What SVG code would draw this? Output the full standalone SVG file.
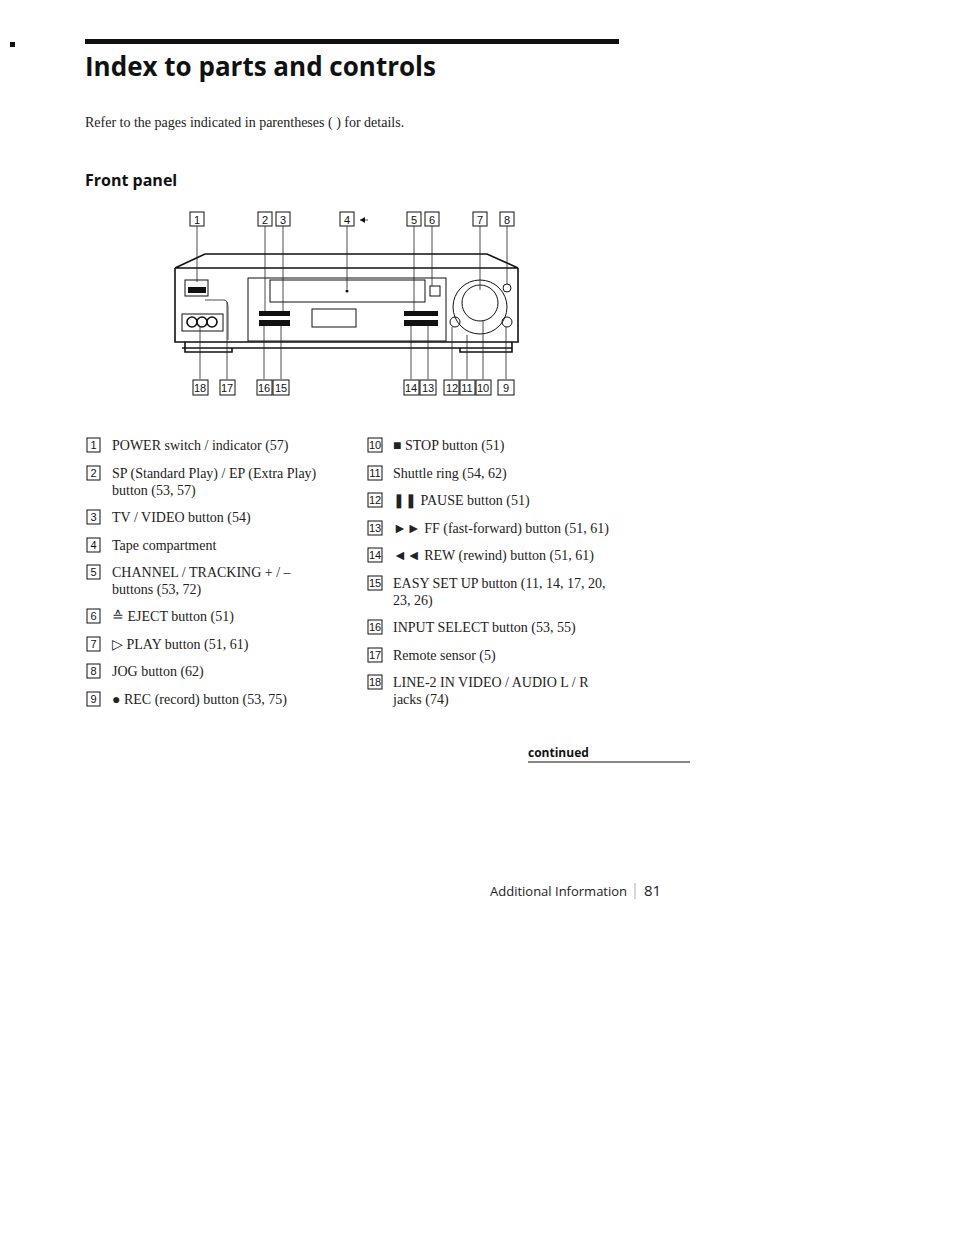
<svg xmlns="http://www.w3.org/2000/svg" width="954" height="1233" viewBox="0 0 954 1233">
<style>
.s{font-family:"Liberation Serif",serif;font-size:14px;fill:#222}
.n{font-family:"Liberation Sans",sans-serif;font-size:11px;fill:#111;text-anchor:middle}
.b{fill:none;stroke:#111;stroke-width:1}
.l{stroke:#222;stroke-width:0.8;fill:none}
.d{fill:none;stroke:#111;stroke-width:1.6}
</style>
<rect width="954" height="1233" fill="#fff"/>
<rect x="10" y="42" width="5" height="5" fill="#111"/>
<rect x="85" y="39" width="534" height="5" fill="#111"/>
<text x="85" y="76" font-family="Open Sans,DejaVu Sans,sans-serif" font-weight="bold" font-size="26" fill="#111">Index to parts and controls</text>
<text x="85" y="127" class="s" font-size="13">Refer to the pages indicated in parentheses ( ) for details.</text>
<text x="85" y="186" font-family="Open Sans,DejaVu Sans,sans-serif" font-weight="bold" font-size="16" fill="#111">Front panel</text>
<g id="vcr">
<path class="d" d="M175 268 L205 254 L487 254 L518 268 Z"/>
<path class="d" d="M175 268 L175 342 L518 342 L518 268"/>
<line class="d" x1="182" y1="348" x2="512" y2="348"/>
<path class="d" d="M185 342 L185 352 L232 352 L232 348 M460 348 L460 352 L512 352 L512 342"/>
<rect class="b" x="248" y="278" width="198" height="63"/>
<rect class="b" x="270" y="280" width="155" height="22"/>
<circle cx="347" cy="291" r="1.5" fill="#111"/>
<rect class="b" x="430" y="286" width="10" height="10"/>
<rect class="b" x="312" y="309" width="44" height="18"/>
<g fill="#111"><rect x="259" y="311" width="31" height="5"/><rect x="259" y="320" width="31" height="6"/><rect x="404" y="311" width="34" height="5"/><rect x="404" y="320" width="34" height="6"/></g>
<circle class="b" cx="480" cy="307" r="27"/>
<circle class="b" cx="480" cy="303" r="18"/>
<circle class="b" cx="455" cy="322" r="5"/>
<circle class="b" cx="507" cy="322" r="5"/>
<circle class="b" cx="507" cy="288" r="4"/>
<rect class="b" x="185" y="280" width="23" height="16"/>
<rect fill="#111" x="188" y="287" width="18" height="6"/>
<path class="l" d="M205 300 L224 300 Q228 300 228 308 L228 340"/>
<rect class="b" x="182" y="314" width="41" height="17"/>
<circle class="d" cx="192" cy="322" r="5"/><circle class="d" cx="202" cy="322" r="5"/><circle class="d" cx="212" cy="322" r="5"/>
</g>
<g id="connectors">
<path class="l" d="M197 226V282 M265 226V311 M283 226V311 M347 226V289 M414 226V311 M432 226V286 M480 226V290 M507 226V284 M200 379V326 M227 379V302 M264 379V326 M281 379V326 M411 379V326 M428 379V326 M452 379V327 M467 379V335 M483 379V320 M506 379V327"/>
<path class="l" d="M360 220H368"/>
<path d="M360 220L365 217L365 223Z" fill="#111"/>
</g>
<g id="labels">
<rect class="b" x="190" y="212" width="14" height="14"/><text class="n" x="197" y="224">1</text>
<rect class="b" x="258" y="212" width="14" height="14"/><text class="n" x="265" y="224">2</text>
<rect class="b" x="276" y="212" width="14" height="14"/><text class="n" x="283" y="224">3</text>
<rect class="b" x="340" y="212" width="14" height="14"/><text class="n" x="347" y="224">4</text>
<rect class="b" x="407" y="212" width="14" height="14"/><text class="n" x="414" y="224">5</text>
<rect class="b" x="425" y="212" width="14" height="14"/><text class="n" x="432" y="224">6</text>
<rect class="b" x="473" y="212" width="14" height="14"/><text class="n" x="480" y="224">7</text>
<rect class="b" x="500" y="212" width="14" height="14"/><text class="n" x="507" y="224">8</text>
<rect class="b" x="193" y="380" width="15" height="15"/><text class="n" x="200" y="392">18</text>
<rect class="b" x="220" y="380" width="15" height="15"/><text class="n" x="227" y="392">17</text>
<rect class="b" x="257" y="380" width="15" height="15"/><text class="n" x="264" y="392">16</text>
<rect class="b" x="273" y="380" width="16" height="15"/><text class="n" x="281" y="392">15</text>
<rect class="b" x="404" y="380" width="15" height="15"/><text class="n" x="411" y="392">14</text>
<rect class="b" x="420" y="380" width="16" height="15"/><text class="n" x="428" y="392">13</text>
<rect class="b" x="444" y="380" width="15" height="15"/><text class="n" x="452" y="392">12</text>
<rect class="b" x="460" y="380" width="15" height="15"/><text class="n" x="467" y="392">11</text>
<rect class="b" x="476" y="380" width="15" height="15"/><text class="n" x="483" y="392">10</text>
<rect class="b" x="498" y="380" width="16" height="15"/><text class="n" x="506" y="392">9</text>
</g>
<g id="list">
<g class="b"><rect x="87" y="438" width="13" height="14"/><rect x="87" y="466" width="13" height="14"/><rect x="87" y="510" width="13" height="14"/><rect x="87" y="538" width="13" height="14"/><rect x="87" y="565" width="13" height="14"/><rect x="87" y="609" width="13" height="14"/><rect x="87" y="637" width="13" height="14"/><rect x="87" y="664" width="13" height="14"/><rect x="87" y="692" width="13" height="14"/>
<rect x="368" y="438" width="14" height="14"/><rect x="368" y="466" width="14" height="14"/><rect x="368" y="493" width="14" height="14"/><rect x="368" y="521" width="14" height="14"/><rect x="368" y="548" width="14" height="14"/><rect x="368" y="576" width="14" height="14"/><rect x="368" y="620" width="14" height="14"/><rect x="368" y="648" width="14" height="14"/><rect x="368" y="675" width="14" height="14"/></g>
<g class="n"><text x="93.5" y="449">1</text><text x="93.5" y="477">2</text><text x="93.5" y="521">3</text><text x="93.5" y="549">4</text><text x="93.5" y="576">5</text><text x="93.5" y="620">6</text><text x="93.5" y="648">7</text><text x="93.5" y="675">8</text><text x="93.5" y="703">9</text>
<text x="375" y="449">10</text><text x="375" y="477">11</text><text x="375" y="504">12</text><text x="375" y="532">13</text><text x="375" y="559">14</text><text x="375" y="587">15</text><text x="375" y="631">16</text><text x="375" y="659">17</text><text x="375" y="686">18</text></g>
<text class="s" x="112" y="450">POWER switch / indicator (57)</text>
<text class="s" x="112" y="478">SP (Standard Play) / EP (Extra Play)</text>
<text class="s" x="112" y="495">button (53, 57)</text>
<text class="s" x="112" y="522">TV / VIDEO button (54)</text>
<text class="s" x="112" y="550">Tape compartment</text>
<text class="s" x="112" y="577">CHANNEL / TRACKING + / –</text>
<text class="s" x="112" y="594">buttons (53, 72)</text>
<text class="s" x="112" y="621">≙ EJECT button (51)</text>
<text class="s" x="112" y="649">▷ PLAY button (51, 61)</text>
<text class="s" x="112" y="676">JOG button (62)</text>
<text class="s" x="112" y="704">● REC (record) button (53, 75)</text>
<text class="s" x="393" y="450">■ STOP button (51)</text>
<text class="s" x="393" y="478">Shuttle ring (54, 62)</text>
<text class="s" x="393" y="505">❚❚ PAUSE button (51)</text>
<text class="s" x="393" y="533">►► FF (fast-forward) button (51, 61)</text>
<text class="s" x="393" y="560">◄◄ REW (rewind) button (51, 61)</text>
<text class="s" x="393" y="588">EASY SET UP button (11, 14, 17, 20,</text>
<text class="s" x="393" y="605">23, 26)</text>
<text class="s" x="393" y="632">INPUT SELECT button (53, 55)</text>
<text class="s" x="393" y="660">Remote sensor (5)</text>
<text class="s" x="393" y="687">LINE-2 IN VIDEO / AUDIO L / R</text>
<text class="s" x="393" y="704">jacks (74)</text>
</g>
<text x="528" y="757" font-family="Open Sans,DejaVu Sans,sans-serif" font-weight="bold" font-size="12" fill="#111">continued</text>
<line x1="528" y1="762" x2="690" y2="762" stroke="#111" stroke-width="1.2"/>
<text x="490" y="896" font-family="Open Sans,DejaVu Sans,sans-serif" font-size="13" fill="#222">Additional Information</text>
<line x1="635" y1="883" x2="635" y2="899" stroke="#999" stroke-width="0.8"/>
<text x="644" y="896" font-family="Open Sans,DejaVu Sans,sans-serif" font-size="15" fill="#222">81</text>
</svg>
